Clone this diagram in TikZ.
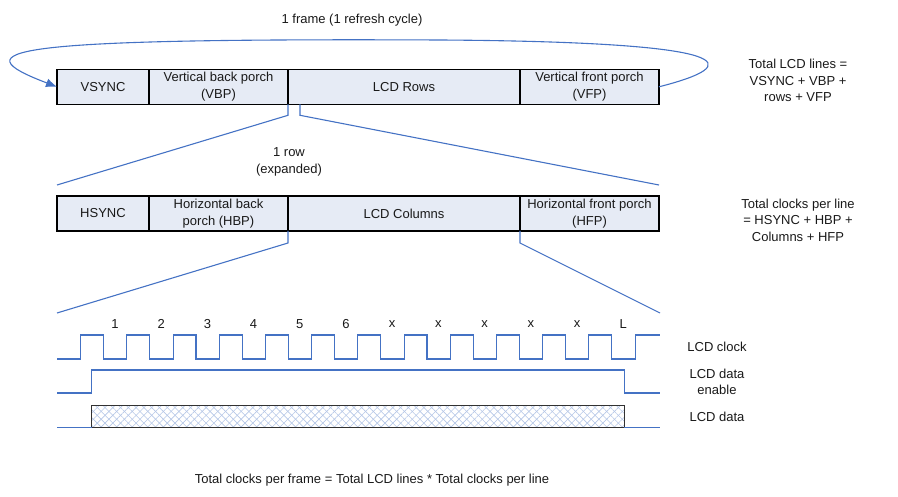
\documentclass[tikz,border=0pt]{standalone}
\usepackage{fontspec}
\setmainfont{Liberation Sans}
\usetikzlibrary{arrows.meta,patterns.meta,calc}
\definecolor{wblue}{RGB}{68,114,196}
\definecolor{segfill}{RGB}{230,235,245}
\definecolor{txt}{RGB}{25,25,25}
\definecolor{hatch}{RGB}{180,198,230}
\begin{document}
\begin{tikzpicture}[x=1pt,y=-1pt,
  every node/.style={font=\fontsize{13}{16.5}\selectfont, text=txt},
  seg/.style={draw=black, line width=1.1pt, fill=segfill, minimum height=35pt,
    inner sep=0pt, outer sep=0pt, anchor=west, align=center},
  wire/.style={draw=wblue, line width=1.1pt},
  lbl/.style={align=center, inner sep=0pt}]
\useasboundingbox (0,0) rectangle (898,497);

% ---------- top bar ----------
\node[seg, minimum width=92pt]  (vs)   at (57,86.8)  {VSYNC};
\node[seg, minimum width=139pt] (vbp)  at (149,86.8) {Vertical back porch\\(VBP)};
\node[seg, minimum width=232pt] (rows) at (288,86.8) {LCD Rows};
\node[seg, minimum width=139pt] (vfp)  at (520,86.8) {Vertical front porch\\(VFP)};

\node[lbl] (frame) at (352,20) {1 frame (1 refresh cycle)};
\node[lbl] (tl) at (798,80.5) {Total LCD lines =\\VSYNC + VBP +\\rows + VFP};

\draw[wire, -{Latex[length=11pt,width=9pt]}] (vfp.east)
  .. controls (745,65) and (745,42) .. (440,40)
  .. controls (0,38) and (-40,50) .. (vs.west);

% ---------- expansion 1 ----------
\coordinate (e1) at (57,185);
\coordinate (e2) at (659,185);
\draw[wire] (rows.south west) -- ++(0,11) -- (e1);
\draw[wire] ([xshift=12pt]rows.south west) -- ++(0,11) -- (e2);

\node[lbl] (row) at (289,162) {1 row\\(expanded)};

% ---------- middle bar ----------
\node[seg, minimum width=92pt]  (hs)   at (57,213.5)  {HSYNC};
\node[seg, minimum width=139pt] (hbp)  at (149,213.5) {Horizontal back\\porch (HBP)};
\node[seg, minimum width=232pt] (cols) at (288,213.5) {LCD Columns};
\node[seg, minimum width=139pt] (hfp)  at (520,213.5) {Horizontal front porch\\(HFP)};

\node[lbl] (tc) at (798,220) {Total clocks per line\\= HSYNC + HBP +\\Columns + HFP};

% ---------- expansion 2 ----------
\coordinate (f1) at (57,313);
\coordinate (f2) at (660,313);
\draw[wire] (cols.south west) -- ++(0,12) -- (f1);
\draw[wire] (hfp.south west) -- ++(0,12) -- (f2);

% ---------- waveforms ----------
\foreach \t [count=\i from 0] in {1,2,3,4,5,6,x,x,x,x,x,L}
  \node[lbl] (c\i) at ({115+46.2*\i},324) {\t};

\draw[wire] (57,359)
  \foreach \k in {0,...,11} {
    -- ({80.7+46.2*\k},359) -- ({80.7+46.2*\k},335)
    -- ({103.6+46.2*\k},335) -- ({103.6+46.2*\k},359) }
  -- (635.3,359) -- (635.3,335) -- (660,335);

\draw[wire] (57,393) -- (91.7,393) -- (91.7,370) -- (624.3,370)
  -- (624.3,393) -- (660,393);

\node[draw={rgb,255:red,50;green,50;blue,50}, line width=1.1pt, inner sep=0pt, outer sep=0pt,
  minimum width=532.6pt, minimum height=22.4pt, anchor=south west,
  preaction={pattern={Lines[angle=45,distance=5.5pt,line width=0.6pt]}, pattern color=hatch},
  pattern={Lines[angle=-45,distance=5.5pt,line width=0.6pt]}, pattern color=hatch]
  (dat) at (91.7,427.7) {};
\coordinate (dl) at (57,427.7);
\coordinate (dr) at (660,427.7);
\draw[wire] (dl) -- (dat.south west);
\draw[wire] (dat.south east) -- (dr);

\node[lbl] (lclk) at (717,346.7) {LCD clock};
\node[lbl] (lden) at (717,382) {LCD data\\enable};
\node[lbl] (ldat) at (717,416.7) {LCD data};

\node[lbl] (tot) at (372,480) {Total clocks per frame = Total LCD lines * Total clocks per line};
\end{tikzpicture}
\end{document}
